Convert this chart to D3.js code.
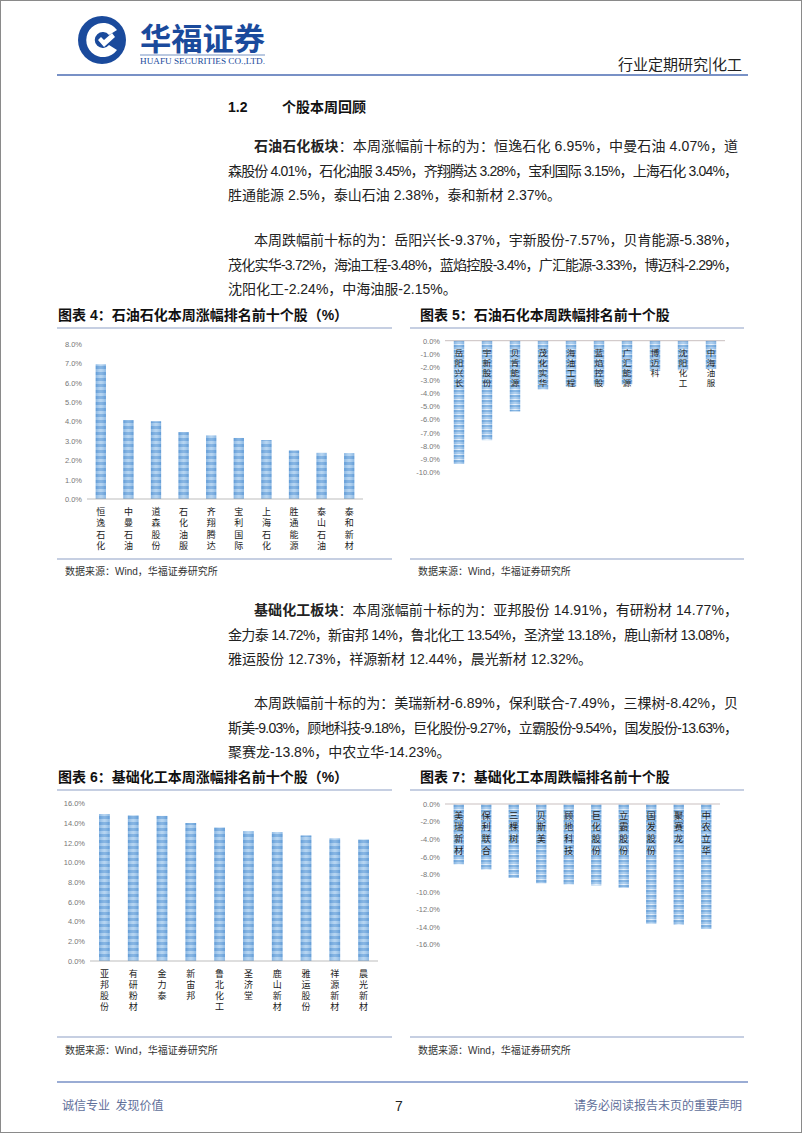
<!DOCTYPE html>
<html>
<head>
<meta charset="utf-8">
<script src="https://cdn.jsdelivr.net/npm/d3@7"></script>
<style>
  body { margin: 0; background: #fff; }
  svg { display: block; }
</style>
</head>
<body>
<svg id="page" width="802" height="1133"></svg>
<script>
// chart data
const oilUpNames = ["恒逸石化", "中曼石油", "道森股份", "石化油服", "齐翔腾达", "宝利国际", "上海石化", "胜通能源", "泰山石油", "泰和新材"];
const oilUpValues = [6.95, 4.07, 4.01, 3.45, 3.28, 3.15, 3.04, 2.5, 2.38, 2.37];

const oilDownNames = ["岳阳兴长", "宇新股份", "贝肯能源", "茂化实华", "海油工程", "蓝焰控股", "广汇能源", "博迈科", "沈阳化工", "中海油服"];
const oilDownValues = [-9.37, -7.57, -5.38, -3.72, -3.48, -3.4, -3.33, -2.29, -2.24, -2.15];

const chemUpNames = ["亚邦股份", "有研粉材", "金力泰", "新宙邦", "鲁北化工", "圣济堂", "鹿山新材", "雅运股份", "祥源新材", "晨光新材"];
const chemUpValues = [14.91, 14.77, 14.72, 14, 13.54, 13.18, 13.08, 12.73, 12.44, 12.32];

const chemDownNames = ["美瑞新材", "保利联合", "三棵树", "贝斯美", "顾地科技", "巨化股份", "立霸股份", "国发股份", "聚赛龙", "中农立华"];
const chemDownValues = [-6.89, -7.49, -8.42, -9.03, -9.18, -9.27, -9.54, -13.63, -13.8, -14.23];

// body text lines
const para1 = [
  [["石油石化板块", true], ["：本周涨幅前十标的为：恒逸石化 6.95%，中曼石油 4.07%，道", false]],
  [["森股份 4.01%，石化油服 3.45%，齐翔腾达 3.28%，宝利国际 3.15%，上海石化 3.04%，", false]],
  [["胜通能源 2.5%，泰山石油 2.38%，泰和新材 2.37%。", false]]
];
const para2 = [
  [["本周跌幅前十标的为：岳阳兴长-9.37%，宇新股份-7.57%，贝肯能源-5.38%，", false]],
  [["茂化实华-3.72%，海油工程-3.48%，蓝焰控股-3.4%，广汇能源-3.33%，博迈科-2.29%，", false]],
  [["沈阳化工-2.24%，中海油服-2.15%。", false]]
];
const para3 = [
  [["基础化工板块", true], ["：本周涨幅前十标的为：亚邦股份 14.91%，有研粉材 14.77%，", false]],
  [["金力泰 14.72%，新宙邦 14%，鲁北化工 13.54%，圣济堂 13.18%，鹿山新材 13.08%，", false]],
  [["雅运股份 12.73%，祥源新材 12.44%，晨光新材 12.32%。", false]]
];
const para4 = [
  [["本周跌幅前十标的为：美瑞新材-6.89%，保利联合-7.49%，三棵树-8.42%，贝", false]],
  [["斯美-9.03%，顾地科技-9.18%，巨化股份-9.27%，立霸股份-9.54%，国发股份-13.63%，", false]],
  [["聚赛龙-13.8%，中农立华-14.23%。", false]]
];

const FONT = "'Liberation Sans', Arial, 'Noto Sans CJK SC', sans-serif";
const CJK = "'Noto Sans CJK SC', sans-serif";
const svg = d3.select("#page");

// page frame
svg.append("rect").attr("x", 0.5).attr("y", 0.5).attr("width", 801).attr("height", 1132)
  .attr("fill", "none").attr("stroke", "#8a8a8a");

// ---- header ----
const logo = svg.append("g").attr("transform", "translate(102,40)");
logo.append("circle").attr("r", 24).attr("fill", "#1a4a9c");
logo.append("path").attr("d", "M15,-10 A17,17 0 1,0 15,10 L7,5 A8,8 0 1,1 7,-5 Z").attr("fill", "#fff");
logo.append("path").attr("d", "M-4,0 L2,7 L13,-3 L10,-7 L2,0 L-1,-3 Z").attr("fill", "#fff");

svg.append("text").attr("x", 140).attr("y", 50).text("华福证券")
  .attr("font-family", CJK).attr("font-weight", "bold").attr("font-size", 31).attr("fill", "#1a4a9c")
  .attr("textLength", 125).attr("lengthAdjust", "spacingAndGlyphs");
svg.append("line").attr("x1", 140).attr("x2", 265).attr("y1", 55).attr("y2", 55)
  .attr("stroke", "#1a4a9c").attr("stroke-width", 0.6);
svg.append("text").attr("x", 140).attr("y", 64).text("HUAFU SECURITIES CO.,LTD.")
  .attr("font-family", "'Liberation Serif', serif").attr("font-size", 8.3).attr("fill", "#1a4a9c")
  .attr("textLength", 125).attr("lengthAdjust", "spacingAndGlyphs");
svg.append("text").attr("x", 742).attr("y", 70).attr("text-anchor", "end").text("行业定期研究|化工")
  .attr("font-family", CJK).attr("font-size", 15).attr("fill", "#222");
svg.append("line").attr("x1", 57).attr("x2", 748).attr("y1", 75).attr("y2", 75)
  .attr("stroke", "#7891c6").attr("stroke-width", 2);

// ---- section heading ----
svg.append("text").attr("x", 228).attr("y", 112).text("1.2")
  .attr("font-family", FONT).attr("font-weight", "bold").attr("font-size", 14).attr("fill", "#111");
svg.append("text").attr("x", 282).attr("y", 112).text("个股本周回顾")
  .attr("font-family", CJK).attr("font-weight", "bold").attr("font-size", 14).attr("fill", "#111");

// paragraphs, each line justified to the right margin except the last
function drawPara(lines, y0) {
  lines.forEach((runs, i) => {
    const x = i === 0 ? 254 : 228;
    const t = svg.append("text").attr("x", x).attr("y", y0 + i * 24.7)
      .attr("font-family", FONT).attr("font-size", 14).attr("fill", "#222");
    if (i < lines.length - 1) t.attr("textLength", 738 - x).attr("lengthAdjust", "spacing");
    runs.forEach(r => t.append("tspan").text(r[0]).attr("font-weight", r[1] ? "bold" : "normal"));
  });
}
drawPara(para1, 151);
drawPara(para2, 245);
drawPara(para3, 615);
drawPara(para4, 708);

// ---- bar fill ----
const defs = svg.append("defs");
const pat = defs.append("pattern").attr("id", "stripe").attr("patternUnits", "userSpaceOnUse")
  .attr("width", 4).attr("height", 6);
pat.append("rect").attr("width", 4).attr("height", 6).attr("fill", "#a5cbee");
pat.append("rect").attr("width", 4).attr("height", 3).attr("fill", "#69a3dc");
const pat2 = defs.append("pattern").attr("id", "stripe2").attr("patternUnits", "userSpaceOnUse")
  .attr("width", 4).attr("height", 5);
pat2.append("rect").attr("width", 4).attr("height", 5).attr("fill", "#9cc5ec");
pat2.append("rect").attr("width", 4).attr("height", 2).attr("fill", "#6ea7dd");
pat2.append("rect").attr("y", 4).attr("width", 4).attr("height", 1).attr("fill", "#e4f0fb");
const shine = defs.append("linearGradient").attr("id", "shine").attr("x1", 0).attr("x2", 1).attr("y1", 0).attr("y2", 0);
shine.append("stop").attr("offset", 0).attr("stop-color", "#4f8ccc").attr("stop-opacity", 0.35);
shine.append("stop").attr("offset", 0.5).attr("stop-color", "#ffffff").attr("stop-opacity", 0.2);
shine.append("stop").attr("offset", 1).attr("stop-color", "#4f8ccc").attr("stop-opacity", 0.35);

const pctFmt = v => (v < 0 ? "-" : "") + Math.abs(v).toFixed(1) + "%";

function drawChart(c) {
  const g = svg.append("g");
  const x = d3.scaleBand().domain(c.names).range([c.xs[0], c.xs[1]])
    .paddingInner(0.63).paddingOuter(0.315);
  const y = d3.scaleLinear().domain(c.domain).range(c.ys);

  const yAxis = d3.axisLeft(y).tickValues(d3.range(c.domain[0], c.domain[1] + 0.001, c.step))
    .tickSize(0).tickPadding(5).tickFormat(pctFmt);
  const ya = g.append("g").attr("transform", `translate(${c.xs[0]},0)`).call(yAxis);
  ya.select(".domain").remove();
  ya.selectAll("text").attr("font-family", "'Liberation Sans Narrow', 'Liberation Sans', sans-serif")
    .attr("font-size", 7.5).attr("fill", "#777");

  const bars = g.selectAll(".bar").data(c.values).enter();
  bars.append("rect")
    .attr("x", (d, i) => x(c.names[i]))
    .attr("width", x.bandwidth())
    .attr("y", d => Math.min(y(d), y(0)))
    .attr("height", d => Math.abs(y(d) - y(0)))
    .attr("fill", c.inside ? "url(#stripe2)" : "url(#stripe)");
  bars.append("rect")
    .attr("x", (d, i) => x(c.names[i]))
    .attr("width", x.bandwidth())
    .attr("y", d => Math.min(y(d), y(0)))
    .attr("height", d => Math.abs(y(d) - y(0)))
    .attr("fill", "url(#shine)");

  g.append("line").attr("x1", c.xs[0]).attr("x2", c.xs[1]).attr("y1", y(0)).attr("y2", y(0))
    .attr("stroke", c.inside ? "#c9bfbf" : "#bdbdbd").attr("stroke-width", 1);

  // vertical category labels
  c.names.forEach(n => {
    const cx = x(n) + x.bandwidth() / 2;
    Array.from(n).forEach((ch, k) => {
      g.append("text").attr("x", cx).attr("y", y(0) + c.labelOff + k * c.labelStep)
        .attr("text-anchor", "middle").attr("dominant-baseline", "central")
        .attr("font-family", CJK).attr("font-size", c.labelSize).attr("fill", "#222")
        .text(ch);
    });
  });
}

function frame(title, x, yTitle, x1, x2, yLine, ySrc) {
  svg.append("text").attr("x", x).attr("y", yTitle + 5).text(title)
    .attr("font-family", FONT).attr("font-weight", "bold").attr("font-size", 14).attr("fill", "#111");
  svg.append("line").attr("x1", x1).attr("x2", x2).attr("y1", yTitle + 13).attr("y2", yTitle + 13)
    .attr("stroke", "#8d9fc6").attr("stroke-width", 1.2);
  svg.append("line").attr("x1", x1).attr("x2", x2).attr("y1", yLine).attr("y2", yLine)
    .attr("stroke", "#8d9fc6").attr("stroke-width", 1.2);
  svg.append("text").attr("x", x1 + 8).attr("y", ySrc + 4).text("数据来源：Wind，华福证券研究所")
    .attr("font-family", FONT).attr("font-size", 10).attr("fill", "#333");
}

frame("图表 4：石油石化本周涨幅排名前十个股（%）", 58, 315, 57, 392, 559, 571);
frame("图表 5：石油石化本周跌幅排名前十个股", 420, 315, 410, 744, 559, 571);
frame("图表 6：基础化工本周涨幅排名前十个股（%）", 58, 777, 57, 392, 1037, 1050);
frame("图表 7：基础化工本周跌幅排名前十个股", 420, 777, 410, 744, 1037, 1050);

drawChart({ names: oilUpNames, values: oilUpValues, xs: [87, 363], ys: [499, 344],
  domain: [0, 8], step: 1, labelOff: 12.5, labelStep: 11.4, labelSize: 9 });
drawChart({ names: oilDownNames, values: oilDownValues, xs: [445, 725], ys: [472, 340.7],
  domain: [-10, 0], step: 1, labelOff: 11, labelStep: 10, labelSize: 8.5, inside: true });
drawChart({ names: chemUpNames, values: chemUpValues, xs: [90, 378], ys: [961, 803.3],
  domain: [0, 16], step: 2, labelOff: 12, labelStep: 11.3, labelSize: 9 });
drawChart({ names: chemDownNames, values: chemDownValues, xs: [445, 720], ys: [944.3, 804],
  domain: [-16, 0], step: 2, labelOff: 11, labelStep: 11.7, labelSize: 9, inside: true });

// ---- footer ----
svg.append("line").attr("x1", 57).attr("x2", 748).attr("y1", 1082).attr("y2", 1082)
  .attr("stroke", "#7891c6").attr("stroke-width", 1.5);
svg.append("text").attr("x", 62).attr("y", 1110).text("诚信专业  发现价值")
  .attr("font-family", CJK).attr("font-size", 12).attr("fill", "#5f6f9a").attr("xml:space", "preserve");
svg.append("text").attr("x", 399).attr("y", 1111).attr("text-anchor", "middle").text("7")
  .attr("font-family", FONT).attr("font-size", 14).attr("fill", "#222");
svg.append("text").attr("x", 742).attr("y", 1110).attr("text-anchor", "end").text("请务必阅读报告末页的重要声明")
  .attr("font-family", CJK).attr("font-size", 12).attr("fill", "#5f6f9a");
</script>
</body>
</html>
